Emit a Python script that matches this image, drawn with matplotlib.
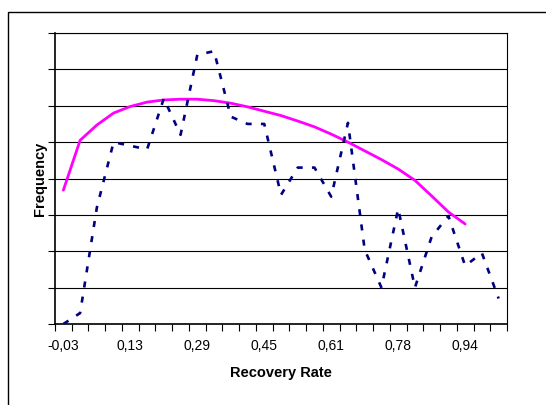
import matplotlib
matplotlib.use("Agg")
import matplotlib.pyplot as plt
from matplotlib.patches import Rectangle

plt.rcParams['font.family'] = ['Liberation Sans', 'DejaVu Sans']

# 27 recovery-rate categories; labels shown every 4th category
tick_labels = ["-0,03", "0,13", "0,29", "0,45", "0,61", "0,78", "0,94"]
label_every = 4
n_categories = 27

# Empirical frequency (dashed navy line), one value per category
observed = [0.0, 0.3, 3.2, 5.0, 4.9, 4.8, 6.2, 5.2, 7.4, 7.5,
            5.7, 5.5, 5.5, 3.55, 4.3, 4.3, 3.5, 5.53, 2.04, 1.0,
            3.17, 1.0, 2.4, 2.97, 1.6, 1.95, 0.7]

# Fitted distribution (magenta line), categories 0..24
fitted = [3.68, 5.05, 5.47, 5.80, 5.98, 6.10, 6.16, 6.18, 6.18, 6.14,
          6.07, 5.97, 5.85, 5.73, 5.58, 5.42, 5.22, 5.00, 4.76, 4.52,
          4.26, 3.95, 3.52, 3.08, 2.75]

W, H = 546, 405
fig = plt.figure(figsize=(W / 100, H / 100), dpi=100)
fig.patch.set_facecolor("white")

# outer chart-area frame
fig.patches.append(Rectangle((8 / W, -0.05), 1.2, (H - 12) / H + 0.05,
                             transform=fig.transFigure, fill=False,
                             edgecolor="black", linewidth=1.0))

ax = fig.add_axes([55 / W, (H - 324) / H, (507 - 55) / W, (324 - 33) / H])
ax_w, ax_h = 507 - 55, 324 - 33

x_obs = [i + 0.5 for i in range(len(observed))]
x_fit = [i + 0.5 for i in range(len(fitted))]

ax.plot(x_fit, fitted, color="#FF00FF", linewidth=2.0, solid_capstyle="round",
        solid_joinstyle="round", zorder=3)
ax.plot(x_obs, observed, color="#000080", linewidth=1.9,
        linestyle=(0, (2.3, 3.5)), zorder=4)

ax.set_xlim(0, n_categories)
ax.set_ylim(0, 8)

# category tick marks between categories
ax.set_xticks(range(n_categories + 1))
ax.set_xticklabels([])
ax.tick_params(axis="x", which="major", direction="out", length=5,
               width=0.8, color="black")
# labels centred in every 4th category
ax.set_xticks([i * label_every + 0.5 for i in range(len(tick_labels))],
              minor=True)
ax.set_xticklabels(tick_labels, minor=True, fontsize=10)
ax.tick_params(axis="x", which="minor", length=0, pad=11)

ax.set_yticks(range(0, 9))
ax.set_yticklabels([])
ax.tick_params(axis="y", direction="out", length=5, width=0.8, color="black")

ax.grid(axis="y", color="black", linewidth=0.8)
ax.set_axisbelow(True)

for side in ["left", "bottom"]:
    ax.spines[side].set_color("black")
    ax.spines[side].set_linewidth(1.2)
for side in ["top", "right"]:
    ax.spines[side].set_color("black")
    ax.spines[side].set_linewidth(0.8)

ax.set_xlabel("Recovery Rate", fontsize=10.5, fontweight="bold")
ax.set_ylabel("Frequency", fontsize=10.5, fontweight="bold")
ax.xaxis.set_label_coords(0.5, (324 - 366) / ax_h)
ax.yaxis.set_label_coords((47 - 55) / ax_w, 0.5)

fig.savefig("out.png", dpi=100, facecolor="white")
